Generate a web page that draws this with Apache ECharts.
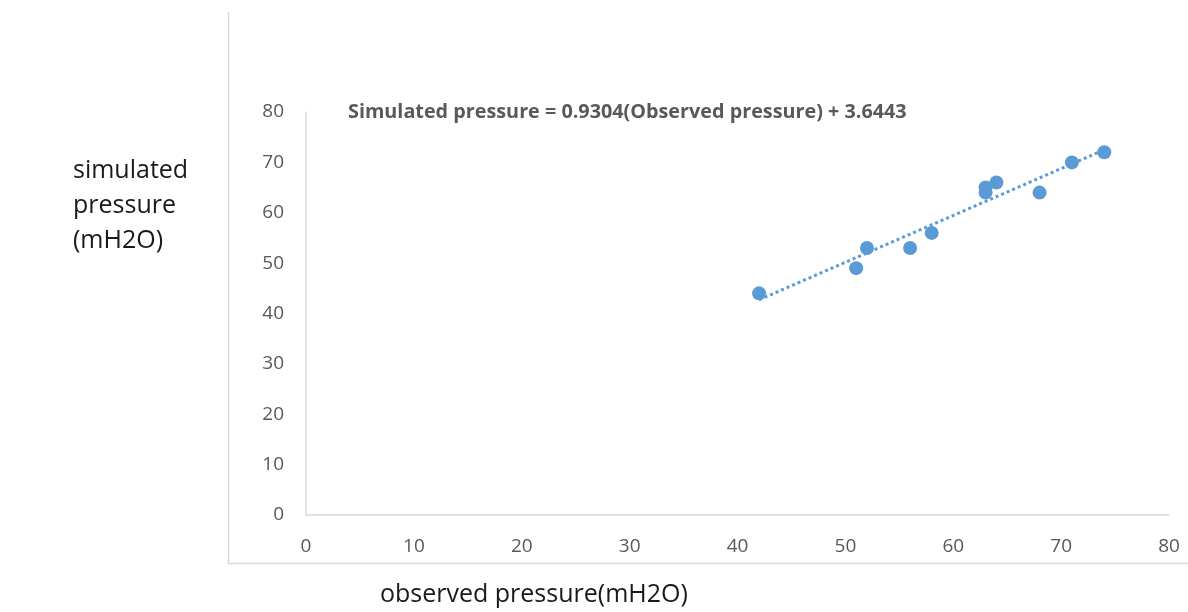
<!DOCTYPE html>
<html>
<head>
<meta charset="utf-8">
<script src="https://cdn.jsdelivr.net/npm/echarts@6/dist/echarts.min.js"></script>
<style>
  html, body { margin: 0; padding: 0; background: #fff; }
  #chart { width: 1188px; height: 612px; }
</style>
</head>
<body>
<div id="chart"></div>
<script>
// Observed vs simulated pressure (mH2O)
const observed  = [42, 51, 52, 56, 58, 63, 63, 64, 68, 71, 74];
const simulated = [44, 49, 53, 53, 56, 64, 65, 66, 64, 70, 72];
const xTicks = [0, 10, 20, 30, 40, 50, 60, 70, 80];
const yTicks = [0, 10, 20, 30, 40, 50, 60, 70, 80];

// Linear trendline coefficients
const slope = 0.9304;
const intercept = 3.6443;

const FONT = '"Open Sans", Lato, sans-serif';
const points = observed.map((x, i) => [x, simulated[i]]);
const xMin = Math.min(...observed), xMax = Math.max(...observed);
const trend = [[xMin, slope * xMin + intercept], [xMax, slope * xMax + intercept]];

const chart = echarts.init(document.getElementById('chart'), null, { renderer: 'canvas' });
chart.setOption({
  animation: false,
  grid: { left: 306, right: 19, top: 112, bottom: 97, containLabel: false },
  xAxis: {
    type: 'value',
    min: xTicks[0], max: xTicks[xTicks.length - 1], interval: 10,
    axisLine: { show: true, lineStyle: { color: '#d9d9d9', width: 1.5 } },
    axisTick: { show: false },
    splitLine: { show: false },
    axisLabel: { color: '#595959', fontSize: 19, fontFamily: FONT, margin: 22 }
  },
  yAxis: {
    type: 'value',
    min: yTicks[0], max: yTicks[yTicks.length - 1], interval: 10,
    axisLine: { show: true, lineStyle: { color: '#d9d9d9', width: 1.5 } },
    axisTick: { show: false },
    splitLine: { show: false },
    axisLabel: { color: '#595959', fontSize: 19, fontFamily: FONT, margin: 22 }
  },
  series: [
    {
      type: 'line',
      data: trend,
      symbol: 'none',
      lineStyle: { color: '#5b9bd5', width: 3, type: [3, 3] },
      z: 1
    },
    {
      type: 'scatter',
      data: points,
      symbol: 'circle',
      symbolSize: 14,
      itemStyle: { color: '#5b9bd5', opacity: 1 },
      z: 2
    }
  ],
  graphic: [
    { type: 'line', shape: { x1: 228.5, y1: 12, x2: 228.5, y2: 563 }, style: { stroke: '#d9d9d9', lineWidth: 1.5 } },
    { type: 'line', shape: { x1: 228, y1: 563.5, x2: 1188, y2: 563.5 }, style: { stroke: '#d9d9d9', lineWidth: 1.5 } },
    {
      type: 'text', left: 348, top: 102,
      style: { text: 'Simulated pressure = 0.9304(Observed pressure) + 3.6443', fill: '#595959',
               font: 'bold 19.8px ' + FONT }
    },
    {
      type: 'text', left: 73, top: 153,
      style: { text: 'simulated\npressure\n(mH2O)', fill: '#1a1a1a', font: '25px ' + FONT, lineHeight: 35 }
    },
    {
      type: 'text', left: 380, top: 582,
      style: { text: 'observed pressure(mH2O)', fill: '#1a1a1a', font: '25px ' + FONT }
    }
  ]
});
</script>
</body>
</html>
